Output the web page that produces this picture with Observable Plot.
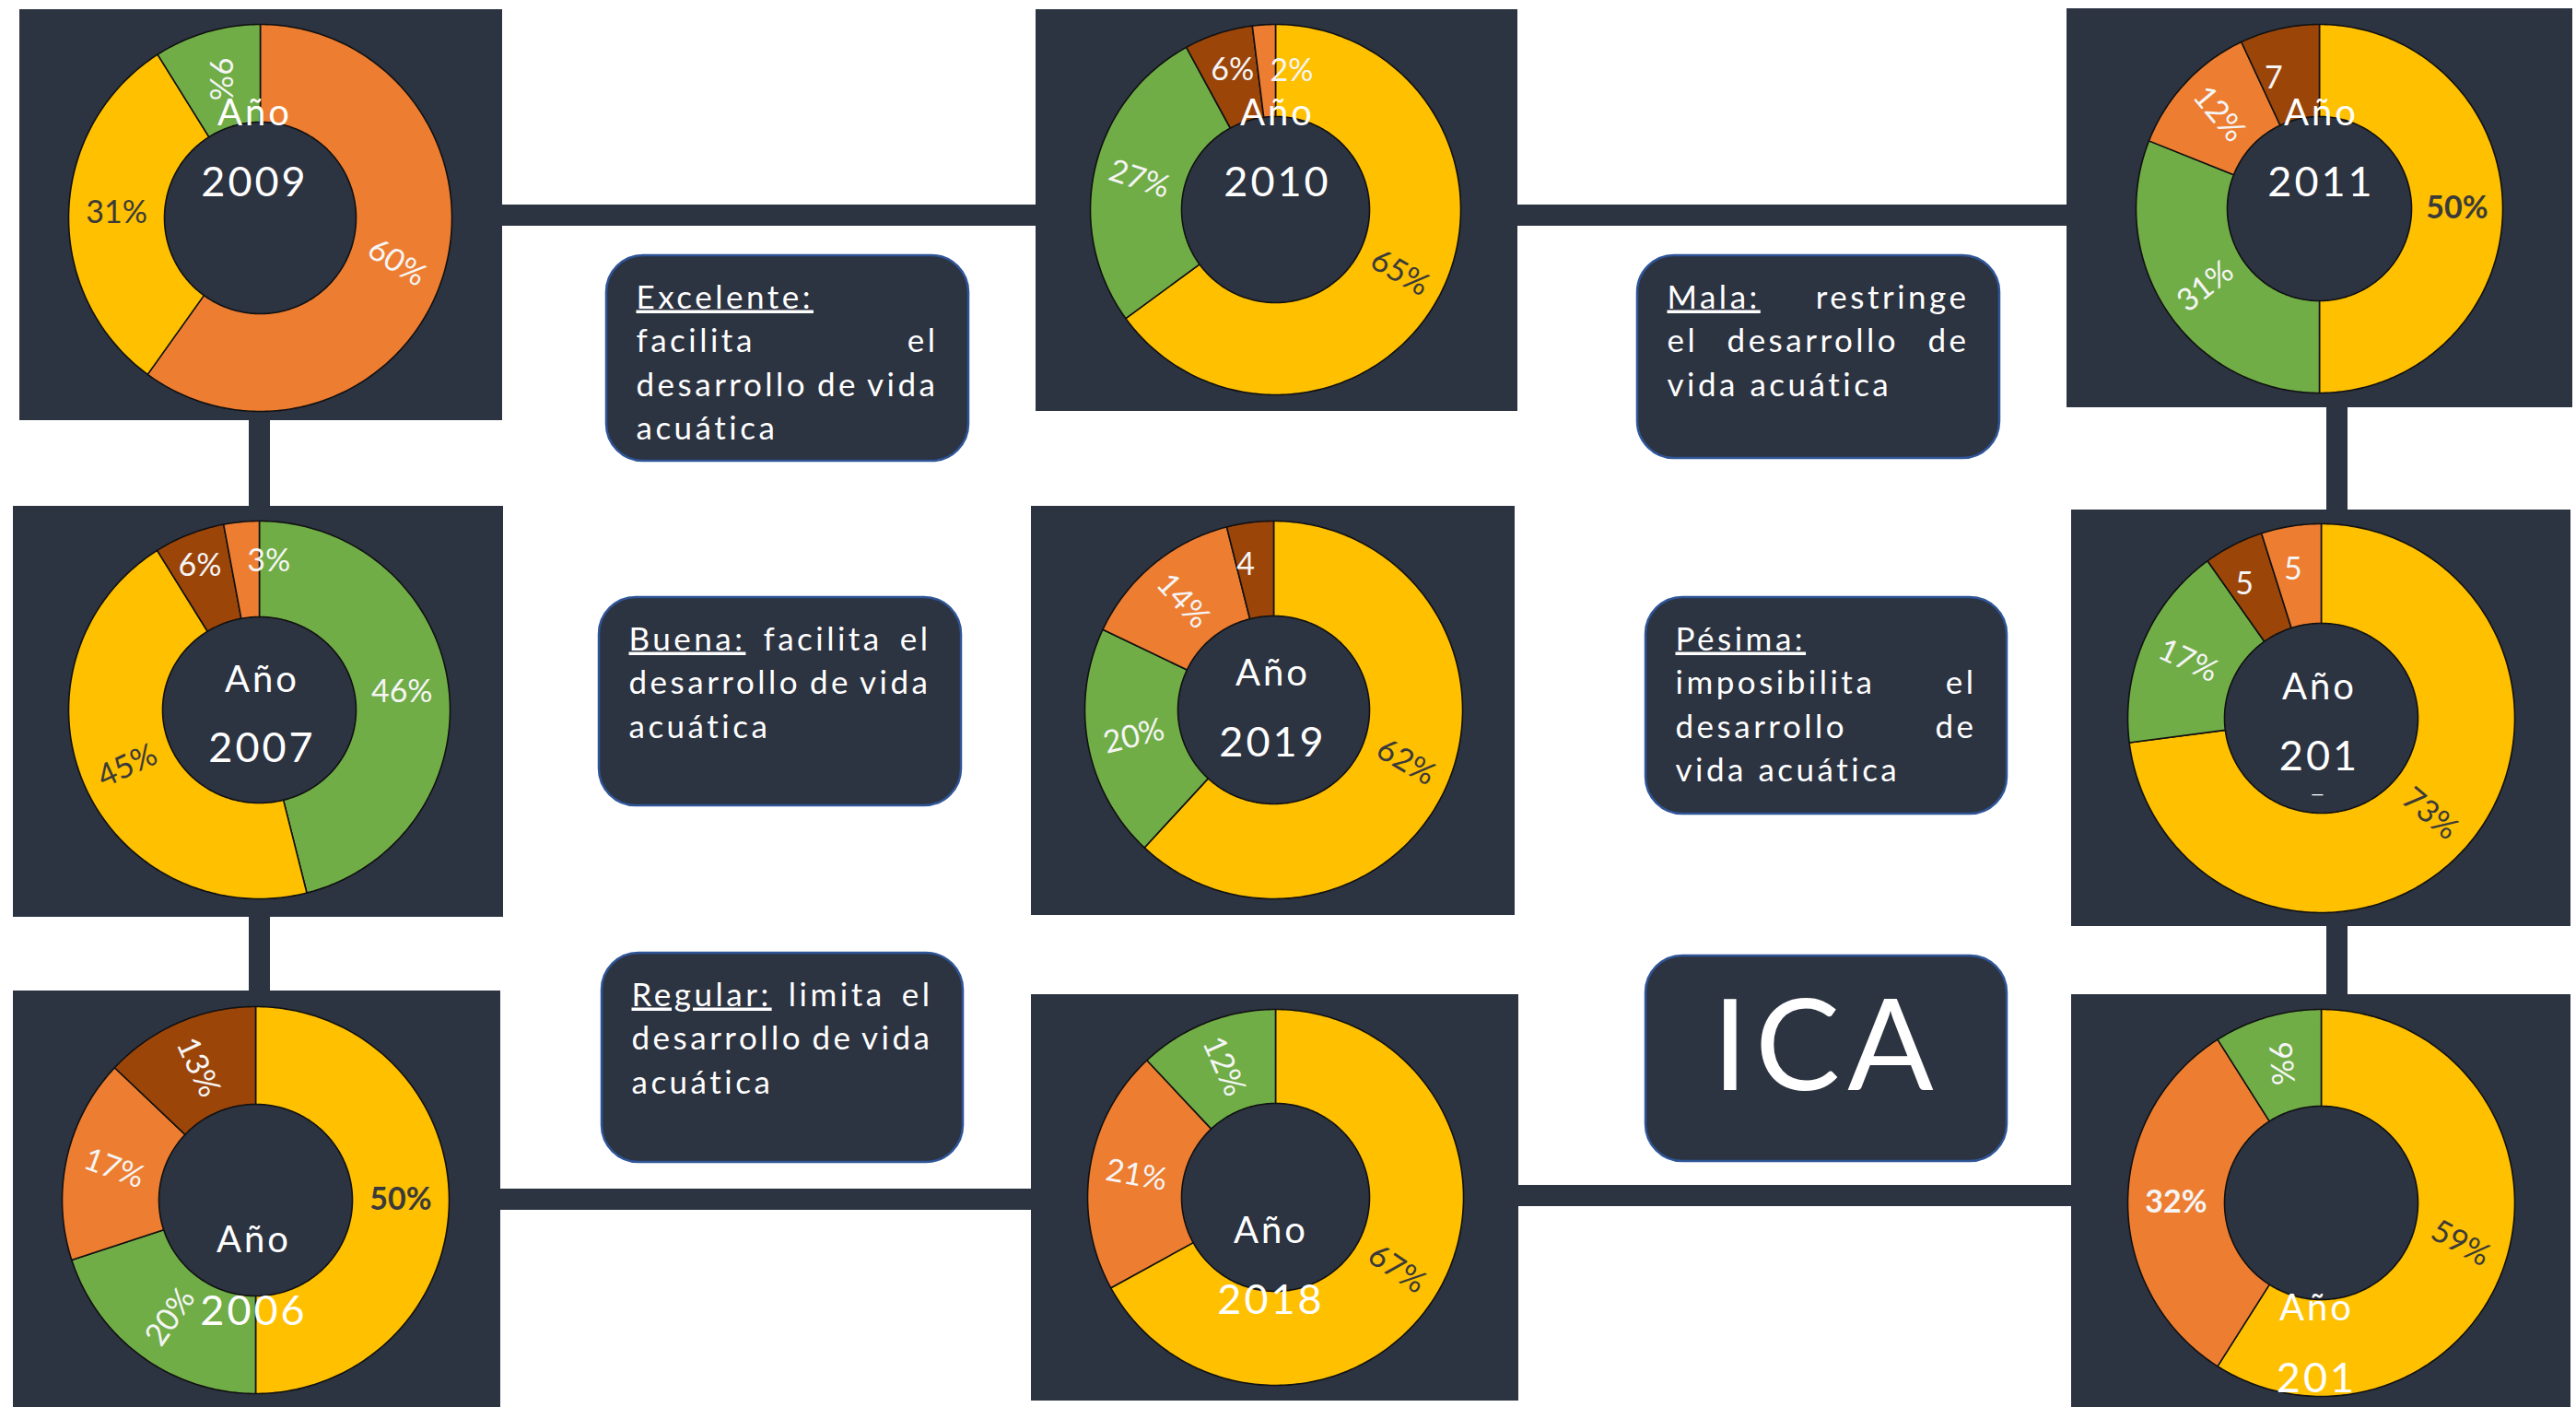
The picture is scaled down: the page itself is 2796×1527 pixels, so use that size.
<!DOCTYPE html>
<html>
<head>
<meta charset="utf-8">
<script src="https://cdn.jsdelivr.net/npm/d3@7"></script>
<script src="https://cdn.jsdelivr.net/npm/@observablehq/plot@0.6"></script>
<style>
  html, body { margin: 0; padding: 0; background: #ffffff; }
  #chart svg { display: block; }
  g[aria-description="box-lines"] text { letter-spacing: 3.5px; }
  g[aria-description="ano"] text { letter-spacing: 3px; }
  g[aria-description="year"] text { letter-spacing: 3px; }
  g[aria-description="ica"] text { letter-spacing: 8px; }
</style>
</head>
<body>
<div id="chart"></div>
<script>
// ---------------- DATA ----------------
const categories = ["Buena", "Regular", "Mala", "Pésima"];
const categoryColors = ["#70AD47", "#FFC000", "#ED7D31", "#9C4509"];

const years = ["2009", "2010", "2011", "2007", "2019", "201", "2006", "2018", "201"];

const cats2009 = ["Mala", "Regular", "Buena"];             const vals2009 = [60, 31, 9];      const lbls2009 = ["60%", "31%", "9%"];
const cats2010 = ["Regular", "Buena", "Pésima", "Mala"];   const vals2010 = [65, 27, 6, 2];   const lbls2010 = ["65%", "27%", "6%", "2%"];
const cats2011 = ["Regular", "Buena", "Mala", "Pésima"];   const vals2011 = [50, 31, 12, 7];  const lbls2011 = ["50%", "31%", "12%", "7"];
const cats2007 = ["Buena", "Regular", "Pésima", "Mala"];   const vals2007 = [46, 45, 6, 3];   const lbls2007 = ["46%", "45%", "6%", "3%"];
const cats2019 = ["Regular", "Buena", "Mala", "Pésima"];   const vals2019 = [62, 20, 14, 4];  const lbls2019 = ["62%", "20%", "14%", "4"];
const cats201a = ["Regular", "Buena", "Pésima", "Mala"];   const vals201a = [73, 17, 5, 5];   const lbls201a = ["73%", "17%", "5", "5"];
const cats2006 = ["Regular", "Buena", "Mala", "Pésima"];   const vals2006 = [50, 20, 17, 13]; const lbls2006 = ["50%", "20%", "17%", "13%"];
const cats2018 = ["Regular", "Mala", "Buena"];             const vals2018 = [67, 21, 12];     const lbls2018 = ["67%", "21%", "12%"];
const cats201b = ["Regular", "Mala", "Buena"];             const vals201b = [59, 32, 9];      const lbls201b = ["59%", "32%", "9%"];

const boxTitles = ["Excelente:", "Buena:", "Regular:", "Mala:", "Pésima:"];
const boxLines = [
  ["Excelente:", "facilita el", "desarrollo de vida", "acuática"],
  ["Buena: facilita el", "desarrollo de vida", "acuática"],
  ["Regular: limita el", "desarrollo de vida", "acuática"],
  ["Mala: restringe", "el desarrollo de", "vida acuática"],
  ["Pésima:", "imposibilita el", "desarrollo de", "vida acuática"]
];
const icaTitle = ["ICA"];

// ---------------- LAYOUT / STYLE ----------------
const W = 2796, H = 1527;
const panelLayout = [
  {x1: 21,   y1: 10,   x2: 545,  y2: 456,  cx: 282,  cy: 236,  rx: 208, ry: 210, irx: 104, iry: 104, tx: 276,  anoY: 135,  yearY: 212},
  {x1: 1124, y1: 10,   x2: 1647, y2: 446,  cx: 1384, cy: 227,  rx: 201, ry: 201, irx: 102, iry: 101, tx: 1386, anoY: 135,  yearY: 212},
  {x1: 2243, y1: 9,    x2: 2792, y2: 442,  cx: 2517, cy: 226,  rx: 199, ry: 200, irx: 100, iry: 100, tx: 2519, anoY: 135,  yearY: 212},
  {x1: 14,   y1: 549,  x2: 546,  y2: 995,  cx: 281,  cy: 770,  rx: 207, ry: 205, irx: 105, iry: 101, tx: 284,  anoY: 750,  yearY: 826},
  {x1: 1119, y1: 549,  x2: 1644, y2: 993,  cx: 1382, cy: 770,  rx: 205, ry: 205, irx: 104, iry: 102, tx: 1381, anoY: 743,  yearY: 820},
  {x1: 2248, y1: 553,  x2: 2790, y2: 1005, cx: 2519, cy: 779,  rx: 210, ry: 211, irx: 105, iry: 103, tx: 2517, anoY: 758,  yearY: 835},
  {x1: 14,   y1: 1075, x2: 543,  y2: 1545, cx: 277,  cy: 1302, rx: 210, ry: 210, irx: 105, iry: 104, tx: 275,  anoY: 1358, yearY: 1437},
  {x1: 1119, y1: 1079, x2: 1648, y2: 1520, cx: 1384, cy: 1299, rx: 204, ry: 204, irx: 102, iry: 102, tx: 1379, anoY: 1348, yearY: 1425},
  {x1: 2248, y1: 1079, x2: 2790, y2: 1545, cx: 2519, cy: 1305, rx: 210, ry: 210, irx: 105, iry: 105, tx: 2514, anoY: 1432, yearY: 1510}
];
const labelRot = [
  [32, 0, 90], [30, 18, 0, 0], [0, -38, 50, 0], [0, -25, 0, 0], [30, -14, 48, 0],
  [40, 25, 0, 0], [0, -55, 20, 65], [34, 10, 66], [29, 0, 85]
];
const labelBold = [
  [0, 0, 0], [0, 0, 0, 0], [1, 0, 0, 0], [0, 0, 0, 0], [0, 0, 0, 0],
  [0, 0, 0, 0], [1, 0, 0, 0], [0, 0, 0], [0, 1, 0]
];
const labelNudge = [
  [[0,0],[0,0],[0,0]], [[0,0],[0,0],[0,-8],[27,0]], [[0,0],[0,0],[0,0],[-17,5]],
  [[0,0],[0,0],[-7,-14],[25,-9]], [[0,0],[0,0],[0,0],[-11,-5]], [[0,0],[0,0],[-12,-6],[-6,-6]],
  [[0,0],[0,0],[0,0],[0,0]], [[0,0],[0,0],[0,0]], [[0,0],[0,0],[0,0]]
];
const connectors = [
  {x1: 530,  y1: 233,  x2: 1135, y2: 233},
  {x1: 1635, y1: 233,  x2: 2255, y2: 233},
  {x1: 281,  y1: 450,  x2: 281,  y2: 555},
  {x1: 281,  y1: 990,  x2: 281,  y2: 1080},
  {x1: 2536, y1: 435,  x2: 2536, y2: 560},
  {x1: 2536, y1: 1000, x2: 2536, y2: 1085},
  {x1: 530,  y1: 1301, x2: 1130, y2: 1301},
  {x1: 1640, y1: 1297, x2: 2260, y2: 1297}
];
const boxLayout = [
  {x1: 658,  y1: 277,  x2: 1051, y2: 500},
  {x1: 650,  y1: 648,  x2: 1043, y2: 874},
  {x1: 653,  y1: 1034, x2: 1045, y2: 1261},
  {x1: 1777, y1: 277,  x2: 2170, y2: 497},
  {x1: 1786, y1: 648,  x2: 2178, y2: 883},
  {x1: 1786, y1: 1037, x2: 2178, y2: 1260}
];
const boxJustify = [[0,1,1,0],[1,1,0],[1,1,0],[1,1,0],[0,1,1,0]];
const DARK = "#2c3341";

// ---------------- BUILD TABLES ----------------
const panelData = [
  [cats2009, vals2009, lbls2009], [cats2010, vals2010, lbls2010], [cats2011, vals2011, lbls2011],
  [cats2007, vals2007, lbls2007], [cats2019, vals2019, lbls2019], [cats201a, vals201a, lbls201a],
  [cats2006, vals2006, lbls2006], [cats2018, vals2018, lbls2018], [cats201b, vals201b, lbls201b]
];
const colorOf = c => categoryColors[categories.indexOf(c)];

const slicePts = [];
const sliceLabels = [];
panelData.forEach(([cats, vals, lbls], pi) => {
  const L = panelLayout[pi];
  const total = d3.sum(vals);
  let acc = 0;
  vals.forEach((v, si) => {
    const a0 = acc / total * 2 * Math.PI;
    const a1 = (acc + v) / total * 2 * Math.PI;
    acc += v;
    const n = Math.max(2, Math.ceil((a1 - a0) / (Math.PI / 180)));
    const id = pi + "-" + si;
    const color = colorOf(cats[si]);
    for (let k = 0; k <= n; k++) {
      const a = a0 + (a1 - a0) * k / n;
      slicePts.push({id, color, x: L.cx + L.rx * Math.sin(a), y: L.cy - L.ry * Math.cos(a)});
    }
    for (let k = n; k >= 0; k--) {
      const a = a0 + (a1 - a0) * k / n;
      slicePts.push({id, color, x: L.cx + L.irx * Math.sin(a), y: L.cy - L.iry * Math.cos(a)});
    }
    const m = (a0 + a1) / 2;
    const lrx = (L.rx + L.irx) / 2, lry = (L.ry + L.iry) / 2;
    const nd = labelNudge[pi][si];
    sliceLabels.push({
      text: lbls[si],
      x: L.cx + lrx * Math.sin(m) + nd[0],
      y: L.cy - lry * Math.cos(m) + nd[1],
      rotate: labelRot[pi][si],
      bold: labelBold[pi][si] === 1,
      fill: cats[si] === "Regular" ? "#3a3a3a" : "#f5f5f5"
    });
  });
});

const anoData = panelLayout.map(L => ({x: L.tx, y: L.anoY, text: "Año"}));
const yearData = panelLayout.map((L, i) => ({x: L.tx, y: L.yearY, text: years[i]}));
const dashData = [{x: panelLayout[5].tx - 2, y: panelLayout[5].yearY + 27, text: "—"}];

const boxLineData = [];
boxLines.forEach((lines, bi) => {
  const B = boxLayout[bi];
  lines.forEach((t, li) => {
    boxLineData.push({
      text: t, x: B.x1 + 32, y: B.y1 + 57 + li * 47.5,
      justify: boxJustify[bi][li] === 1,
      width: (B.x2 - B.x1) - 65,
      title: li === 0 ? boxTitles[bi] : null
    });
  });
});
const icaData = icaTitle.map(t => ({text: t, x: (boxLayout[5].x1 + boxLayout[5].x2) / 2, y: 1182}));

// ---------------- PLOT ----------------
const font = "Lato, 'Open Sans', sans-serif";
const svg = Plot.plot({
  width: W, height: H,
  margin: 0,
  x: {domain: [0, W], range: [0, W], axis: null},
  y: {domain: [0, H], range: [0, H], axis: null},
  color: {type: "identity"},
  style: {background: "#ffffff", fontFamily: font},
  marks: [
    Plot.link(connectors, {x1: "x1", y1: "y1", x2: "x2", y2: "y2", stroke: DARK, strokeWidth: 23}),
    Plot.rect(panelLayout, {x1: "x1", x2: "x2", y1: "y1", y2: "y2", fill: DARK}),
    Plot.line(slicePts, {x: "x", y: "y", z: "id", fill: "color", stroke: "#111111", strokeWidth: 1.6, curve: "linear-closed", strokeLinejoin: "round"}),
    Plot.text(sliceLabels.filter(d => !d.bold), {x: "x", y: "y", text: "text", rotate: "rotate", fill: "fill", fontSize: 34, fontFamily: font}),
    Plot.text(sliceLabels.filter(d => d.bold), {x: "x", y: "y", text: "text", rotate: "rotate", fill: "fill", fontSize: 34, fontWeight: "bold", fontFamily: font}),
    Plot.text(anoData, {x: "x", y: "y", text: "text", fill: "#ffffff", fontSize: 40, lineAnchor: "bottom", fontFamily: font, ariaDescription: "ano"}),
    Plot.text(yearData, {x: "x", y: "y", text: "text", fill: "#ffffff", fontSize: 45, lineAnchor: "bottom", fontFamily: font, ariaDescription: "year"}),
    Plot.text(dashData, {x: "x", y: "y", text: "text", fill: "#ffffff", fontSize: 18, lineAnchor: "middle", fontFamily: font}),
    Plot.rect(boxLayout, {x1: "x1", x2: "x2", y1: "y1", y2: "y2", fill: DARK, stroke: "#2f5597", strokeWidth: 2.5, rx: 40}),
    Plot.text(boxLineData, {x: "x", y: "y", text: "text", fill: "#ffffff", fontSize: 35, textAnchor: "start", lineAnchor: "bottom", fontFamily: font, ariaDescription: "box-lines"}),
    Plot.text(icaData, {x: "x", y: "y", text: "text", fill: "#ffffff", fontSize: 138, lineAnchor: "bottom", fontFamily: font, ariaDescription: "ica"})
  ]
});
document.getElementById("chart").append(svg);

// Justify box lines and underline their titles
const g = svg.querySelector('g[aria-description="box-lines"]');
if (g) {
  const texts = g.querySelectorAll("text");
  texts.forEach((t, i) => {
    const d = boxLineData[i];
    if (!d) return;
    if (d.justify) {
      const len = t.getComputedTextLength();
      const n = d.text.split(" ").length - 1;
      if (n > 0) t.style.wordSpacing = ((d.width - len) / n) + "px";
    }
    if (d.title && d.text.startsWith(d.title)) {
      const rest = d.text.slice(d.title.length);
      t.textContent = "";
      const ts = document.createElementNS("http://www.w3.org/2000/svg", "tspan");
      ts.textContent = d.title;
      ts.setAttribute("text-decoration", "underline");
      ts.style.textDecoration = "underline";
      t.appendChild(ts);
      if (rest) t.appendChild(document.createTextNode(rest));
    }
  });
}
</script>
</body>
</html>
